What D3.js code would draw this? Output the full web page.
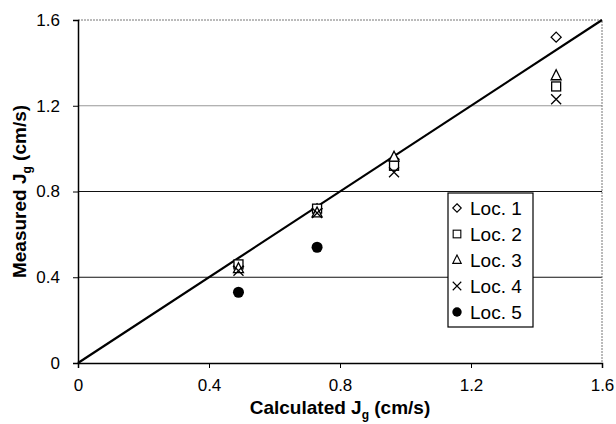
<!DOCTYPE html>
<html>
<head>
<meta charset="utf-8">
<script src="https://cdn.jsdelivr.net/npm/d3@7"></script>
<style>
  body { margin: 0; background: #fff; }
  svg text { font-family: "Liberation Sans", Arial, sans-serif; fill: #000; }
</style>
</head>
<body>
<div id="chart"></div>
<script>
// data
const calcJg = [0.49, 0.73, 0.965, 1.46];
const loc1 = [0.45, 0.72, 0.95, 1.52];
const loc2 = [0.46, 0.72, 0.92, 1.29];
const loc3 = [0.44, 0.70, 0.96, 1.34];
const loc4 = [0.43, 0.70, 0.89, 1.23];
const loc5 = [0.33, 0.54];
const ticks = [0, 0.4, 0.8, 1.2, 1.6];
const seriesNames = ["Loc. 1", "Loc. 2", "Loc. 3", "Loc. 4", "Loc. 5"];

const [W, H] = [616, 424];
const m = { left: 78, right: 14, top: 20, bottom: 61 };

const svg = d3.select("#chart").append("svg").attr("width", W).attr("height", H);

const x = d3.scaleLinear().domain([0, 1.6]).range([m.left, W - m.right]);
const y = d3.scaleLinear().domain([0, 1.6]).range([H - m.bottom, m.top]);

// gridlines
svg.append("g")
  .selectAll("line")
  .data(ticks.slice(1, 4))
  .enter()
  .append("line")
  .attr("x1", x(0)).attr("x2", x(1.6))
  .attr("y1", (d) => y(d)).attr("y2", (d) => y(d))
  .attr("stroke", (d) => (d === 1.2 ? "#999" : "#111"))
  .attr("stroke-width", 1.2);

// top and right frame, dotted
svg.append("path")
  .attr("d", `M${x(0)},${y(1.6)}H${x(1.6)}V${y(0)}`)
  .attr("fill", "none")
  .attr("stroke", "#777")
  .attr("stroke-dasharray", "2,1");

// axes
const fmt = (d) => (d === 0 ? "0" : d3.format(".1f")(d));
const xAxis = d3.axisBottom(x).tickValues(ticks).tickFormat(fmt).tickSize(5).tickPadding(11);
const yAxis = d3.axisLeft(y).tickValues(ticks).tickFormat(fmt).tickSize(5).tickPadding(13);

svg.append("g")
  .attr("transform", `translate(0, ${y(0)})`)
  .call(xAxis)
  .call((g) => g.select(".domain").attr("stroke-width", 1.5))
  .call((g) => g.selectAll("text").style("font-size", "17px"));

svg.append("g")
  .attr("transform", `translate(${x(0)}, 0)`)
  .call(yAxis)
  .call((g) => g.select(".domain").attr("stroke-width", 1.5))
  .call((g) => g.selectAll("text").style("font-size", "17px"));

// 1:1 line
svg.append("line")
  .attr("x1", x(0)).attr("y1", y(0))
  .attr("x2", x(1.6)).attr("y2", y(1.6))
  .attr("stroke", "#000")
  .attr("stroke-width", 2.2);

// axis titles
const xt = svg.append("text")
  .attr("x", (x(0) + x(1.6)) / 2)
  .attr("y", 414)
  .attr("text-anchor", "middle")
  .style("font-size", "19px")
  .style("font-weight", "bold");
xt.append("tspan").text("Calculated J");
xt.append("tspan").attr("dy", 5).style("font-size", "12px").text("g");
xt.append("tspan").attr("dy", -5).text(" (cm/s)");

const yt = svg.append("text")
  .attr("transform", `translate(26, ${(y(0) + y(1.6)) / 2}) rotate(-90)`)
  .attr("text-anchor", "middle")
  .style("font-size", "19px")
  .style("font-weight", "bold");
yt.append("tspan").text("Measured J");
yt.append("tspan").attr("dy", 5).style("font-size", "12px").text("g");
yt.append("tspan").attr("dy", -5).text(" (cm/s)");

// markers
const symbols = [
  (g) => g.append("path").attr("d", "M0,-5L5,0L0,5L-5,0Z").attr("fill", "#fff").attr("stroke", "#000").attr("stroke-width", 1.3),
  (g) => g.append("rect").attr("x", -4.5).attr("y", -4.5).attr("width", 9).attr("height", 9).attr("fill", "#fff").attr("stroke", "#000").attr("stroke-width", 1.3),
  (g) => g.append("path").attr("d", "M0,-6L5,4L-5,4Z").attr("fill", "#fff").attr("stroke", "#000").attr("stroke-width", 1.3),
  (g) => g.append("path").attr("d", "M-5,-5L5,5M5,-5L-5,5").attr("fill", "none").attr("stroke", "#000").attr("stroke-width", 1.3),
  (g) => g.append("circle").attr("r", 5.5).attr("fill", "#000"),
];

const allSeries = [loc1, loc2, loc3, loc4, loc5];
allSeries.forEach((vals, si) => {
  vals.forEach((v, i) => {
    const g = svg.append("g").attr("transform", `translate(${x(calcJg[i])}, ${y(v)})`);
    symbols[si](g);
  });
});

// legend
const lg = svg.append("g").attr("transform", "translate(448, 193)");
lg.append("rect")
  .attr("width", 85).attr("height", 134)
  .attr("fill", "#fff").attr("stroke", "#000").attr("stroke-width", 1.2);
seriesNames.forEach((name, i) => {
  const item = lg.append("g").attr("transform", `translate(0, ${15 + i * 26})`);
  symbols[i](item.append("g").attr("transform", "translate(9, 0) scale(0.85)"));
  item.append("text")
    .attr("x", 22).attr("y", 0).attr("dy", "0.36em")
    .style("font-size", "19px")
    .text(name);
});
</script>
</body>
</html>
